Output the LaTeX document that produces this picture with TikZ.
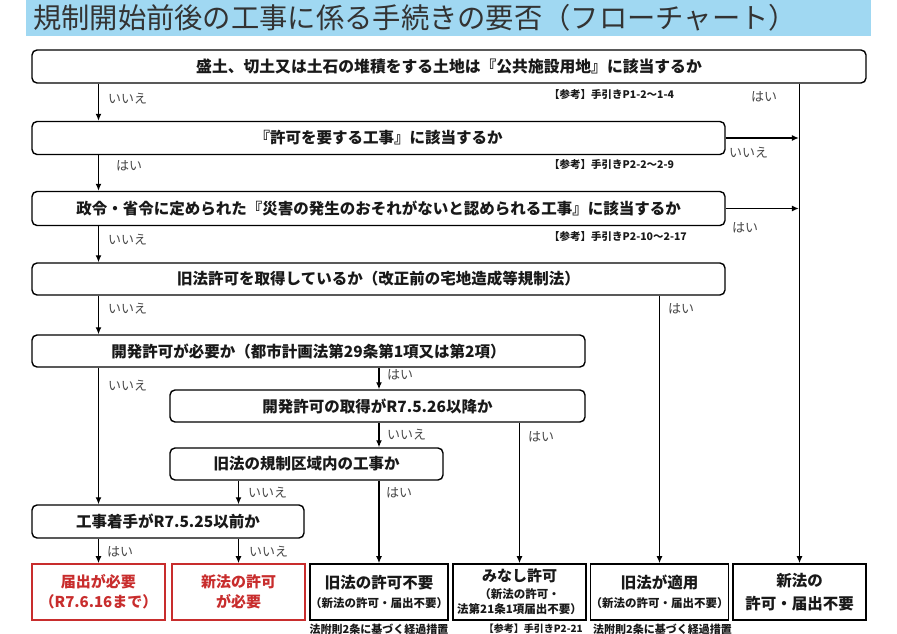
\documentclass[tikz,border=0pt]{standalone}
\usepackage{fontspec}
\setmainfont{Noto Sans CJK JP}
\usetikzlibrary{arrows.meta,calc}
\definecolor{barblue}{RGB}{160,216,242}
\definecolor{titlegray}{RGB}{51,51,51}
\definecolor{lblgray}{RGB}{70,70,70}
\definecolor{redc}{RGB}{200,45,45}
\begin{document}
\begin{tikzpicture}[x=1pt,y=-1pt,
  qbox/.style={draw=black, line width=1.4pt, rounded corners=5pt, inner sep=0pt,
    font=\fontsize{15.5}{18}\selectfont\bfseries, text=black!90},
  endbox/.style={draw=black, line width=1.6pt, inner sep=0pt, align=center,
    minimum width=133pt, minimum height=56pt,
    font=\fontsize{15.5}{20}\selectfont\bfseries, text=black!90},
  redbox/.style={endbox, draw=redc, text=redc, font=\fontsize{15}{20}\selectfont\bfseries},
  lbl/.style={font=\fontsize{13}{15}\selectfont, text=lblgray, inner sep=0pt, anchor=west},
  refnote/.style={font=\fontsize{10.5}{12}\selectfont\bfseries, text=black!90, inner sep=0pt, anchor=west},
  arr/.style={-{Latex[length=7pt,width=6pt]}, line width=1.3pt}
]
\useasboundingbox (0,0) rectangle (897,634);

% title bar
\node[fill=barblue, minimum width=845pt, minimum height=36pt, inner sep=0pt, anchor=north west] (bar) at (26,0) {};
\node[anchor=west, inner sep=0pt, font=\fontsize{28.3}{30}\selectfont, text=titlegray] (title) at (33,18)
  {規制開始前後の工事に係る手続きの要否（フローチャート）};

% question boxes
\node[qbox, minimum width=834pt, minimum height=33pt, font=\fontsize{15.8}{18}\selectfont\bfseries] (q1) at (449,66.5)
  {盛土、切土又は土石の堆積をする土地は『公共施設用地』に該当するか};
\node[qbox, minimum width=693pt, minimum height=33pt] (q2) at (378.5,138)
  {『許可を要する工事』に該当するか};
\node[qbox, minimum width=693pt, minimum height=34pt] (q3) at (378.5,208.5)
  {政令・省令に定められた『災害の発生のおそれがないと認められる工事』に該当するか};
\node[qbox, minimum width=693pt, minimum height=32pt] (q4) at (378.5,279)
  {旧法許可を取得しているか（改正前の宅地造成等規制法）};
\node[qbox, minimum width=553pt, minimum height=32pt] (q5) at (308.5,351)
  {開発許可が必要か（都市計画法第29条第1項又は第2項）};
\node[qbox, minimum width=415pt, minimum height=32pt] (q6) at (377.5,406)
  {開発許可の取得がR7.5.26以降か};
\node[qbox, minimum width=273pt, minimum height=32pt] (q7) at (306.5,464)
  {旧法の規制区域内の工事か};
\node[qbox, minimum width=272pt, minimum height=33pt] (q8) at (168,521.5)
  {工事着手がR7.5.25以前か};

% end boxes
\node[redbox] (r1) at (98.5,592) {届出が必要\\（R7.6.16まで）};
\node[redbox] (r2) at (238.5,592) {新法の許可\\が必要};
\node[endbox] (r3) at (379,592) {旧法の許可不要\\[-1pt]{\fontsize{11.5}{13}\selectfont （新法の許可・届出不要）}};
\node[endbox, font=\fontsize{15}{17}\selectfont\bfseries] (r4) at (519.5,592)
  {みなし許可\\{\fontsize{11.5}{13}\selectfont （新法の許可・}\\[-2pt]{\fontsize{11.5}{13}\selectfont 法第21条1項届出不要）}};
\node[endbox] (r5) at (659.5,592) {旧法が適用\\[-1pt]{\fontsize{11.5}{13}\selectfont （新法の許可・届出不要）}};
\node[endbox, font=\fontsize{15.5}{23}\selectfont\bfseries] (r6) at (799.5,592) {新法の\\許可・届出不要};

% reference notes
\node[refnote] (n1) at (549,94) {【参考】手引きP1-2～1-4};
\node[refnote] (n2) at (549,164) {【参考】手引きP2-2～2-9};
\node[refnote] (n3) at (549,236) {【参考】手引きP2-10～2-17};
\node[refnote, font=\fontsize{11}{12}\selectfont\bfseries, anchor=north] (n4) at ($(r3.south)+(0,3)$) {法附則2条に基づく経過措置};
\node[refnote, font=\fontsize{10}{12}\selectfont\bfseries, anchor=east] (n5) at (583,629) {【参考】手引きP2-21};
\node[refnote, font=\fontsize{11}{12}\selectfont\bfseries] (n6) at (593,629) {法附則2条に基づく経過措置};

% connectors
\draw[arr] (q1.south -| r1.north) -- (q2.north -| r1.north);
\draw[arr] (q2.south -| r1.north) -- (q3.north -| r1.north);
\draw[arr] (q3.south -| r1.north) -- (q4.north -| r1.north);
\draw[arr] (q4.south -| r1.north) -- (q5.north -| r1.north);
\draw[arr] (q5.south -| r1.north) -- (q8.north -| r1.north);
\draw[arr] (q8.south -| r1.north) -- (r1.north);
\draw[arr] (q8.south -| r2.north) -- (r2.north);
\draw[arr] (q7.south -| r2.north) -- (q8.north -| r2.north);
\draw[arr] (q5.south -| r3.north) -- (q6.north -| r3.north);
\draw[arr] (q6.south -| r3.north) -- (q7.north -| r3.north);
\draw[arr] (q7.south -| r3.north) -- (r3.north);
\draw[arr] (q6.south -| r4.north) -- (r4.north);
\draw[arr] (q4.south -| r5.north) -- (r5.north);
\draw[arr] (q1.south -| r6.north) -- (r6.north);
\draw[arr, shorten >=0.6pt] (q2.east) -- (q2.east -| r6.north);
\draw[arr, shorten >=0.6pt] (q3.east) -- (q3.east -| r6.north);

% branch labels
\node[lbl] (l1) at (108,99) {いいえ};
\node[lbl] (l2) at (116,166) {はい};
\node[lbl] (l3) at (108,240) {いいえ};
\node[lbl] (l4) at (108,309) {いいえ};
\node[lbl] (l5) at (108,386) {いいえ};
\node[lbl] (l6) at (107,552) {はい};
\node[lbl] (l7) at (249,552) {いいえ};
\node[lbl] (l8) at (248,493) {いいえ};
\node[lbl] (l9) at (387,375) {はい};
\node[lbl] (l10) at (387,435) {いいえ};
\node[lbl] (l11) at (386,493) {はい};
\node[lbl] (l12) at (528,437) {はい};
\node[lbl] (l13) at (668,309) {はい};
\node[lbl] (l14) at (751,97) {はい};
\node[lbl] (l15) at (729,153) {いいえ};
\node[lbl] (l16) at (732,228) {はい};
\end{tikzpicture}
\end{document}
